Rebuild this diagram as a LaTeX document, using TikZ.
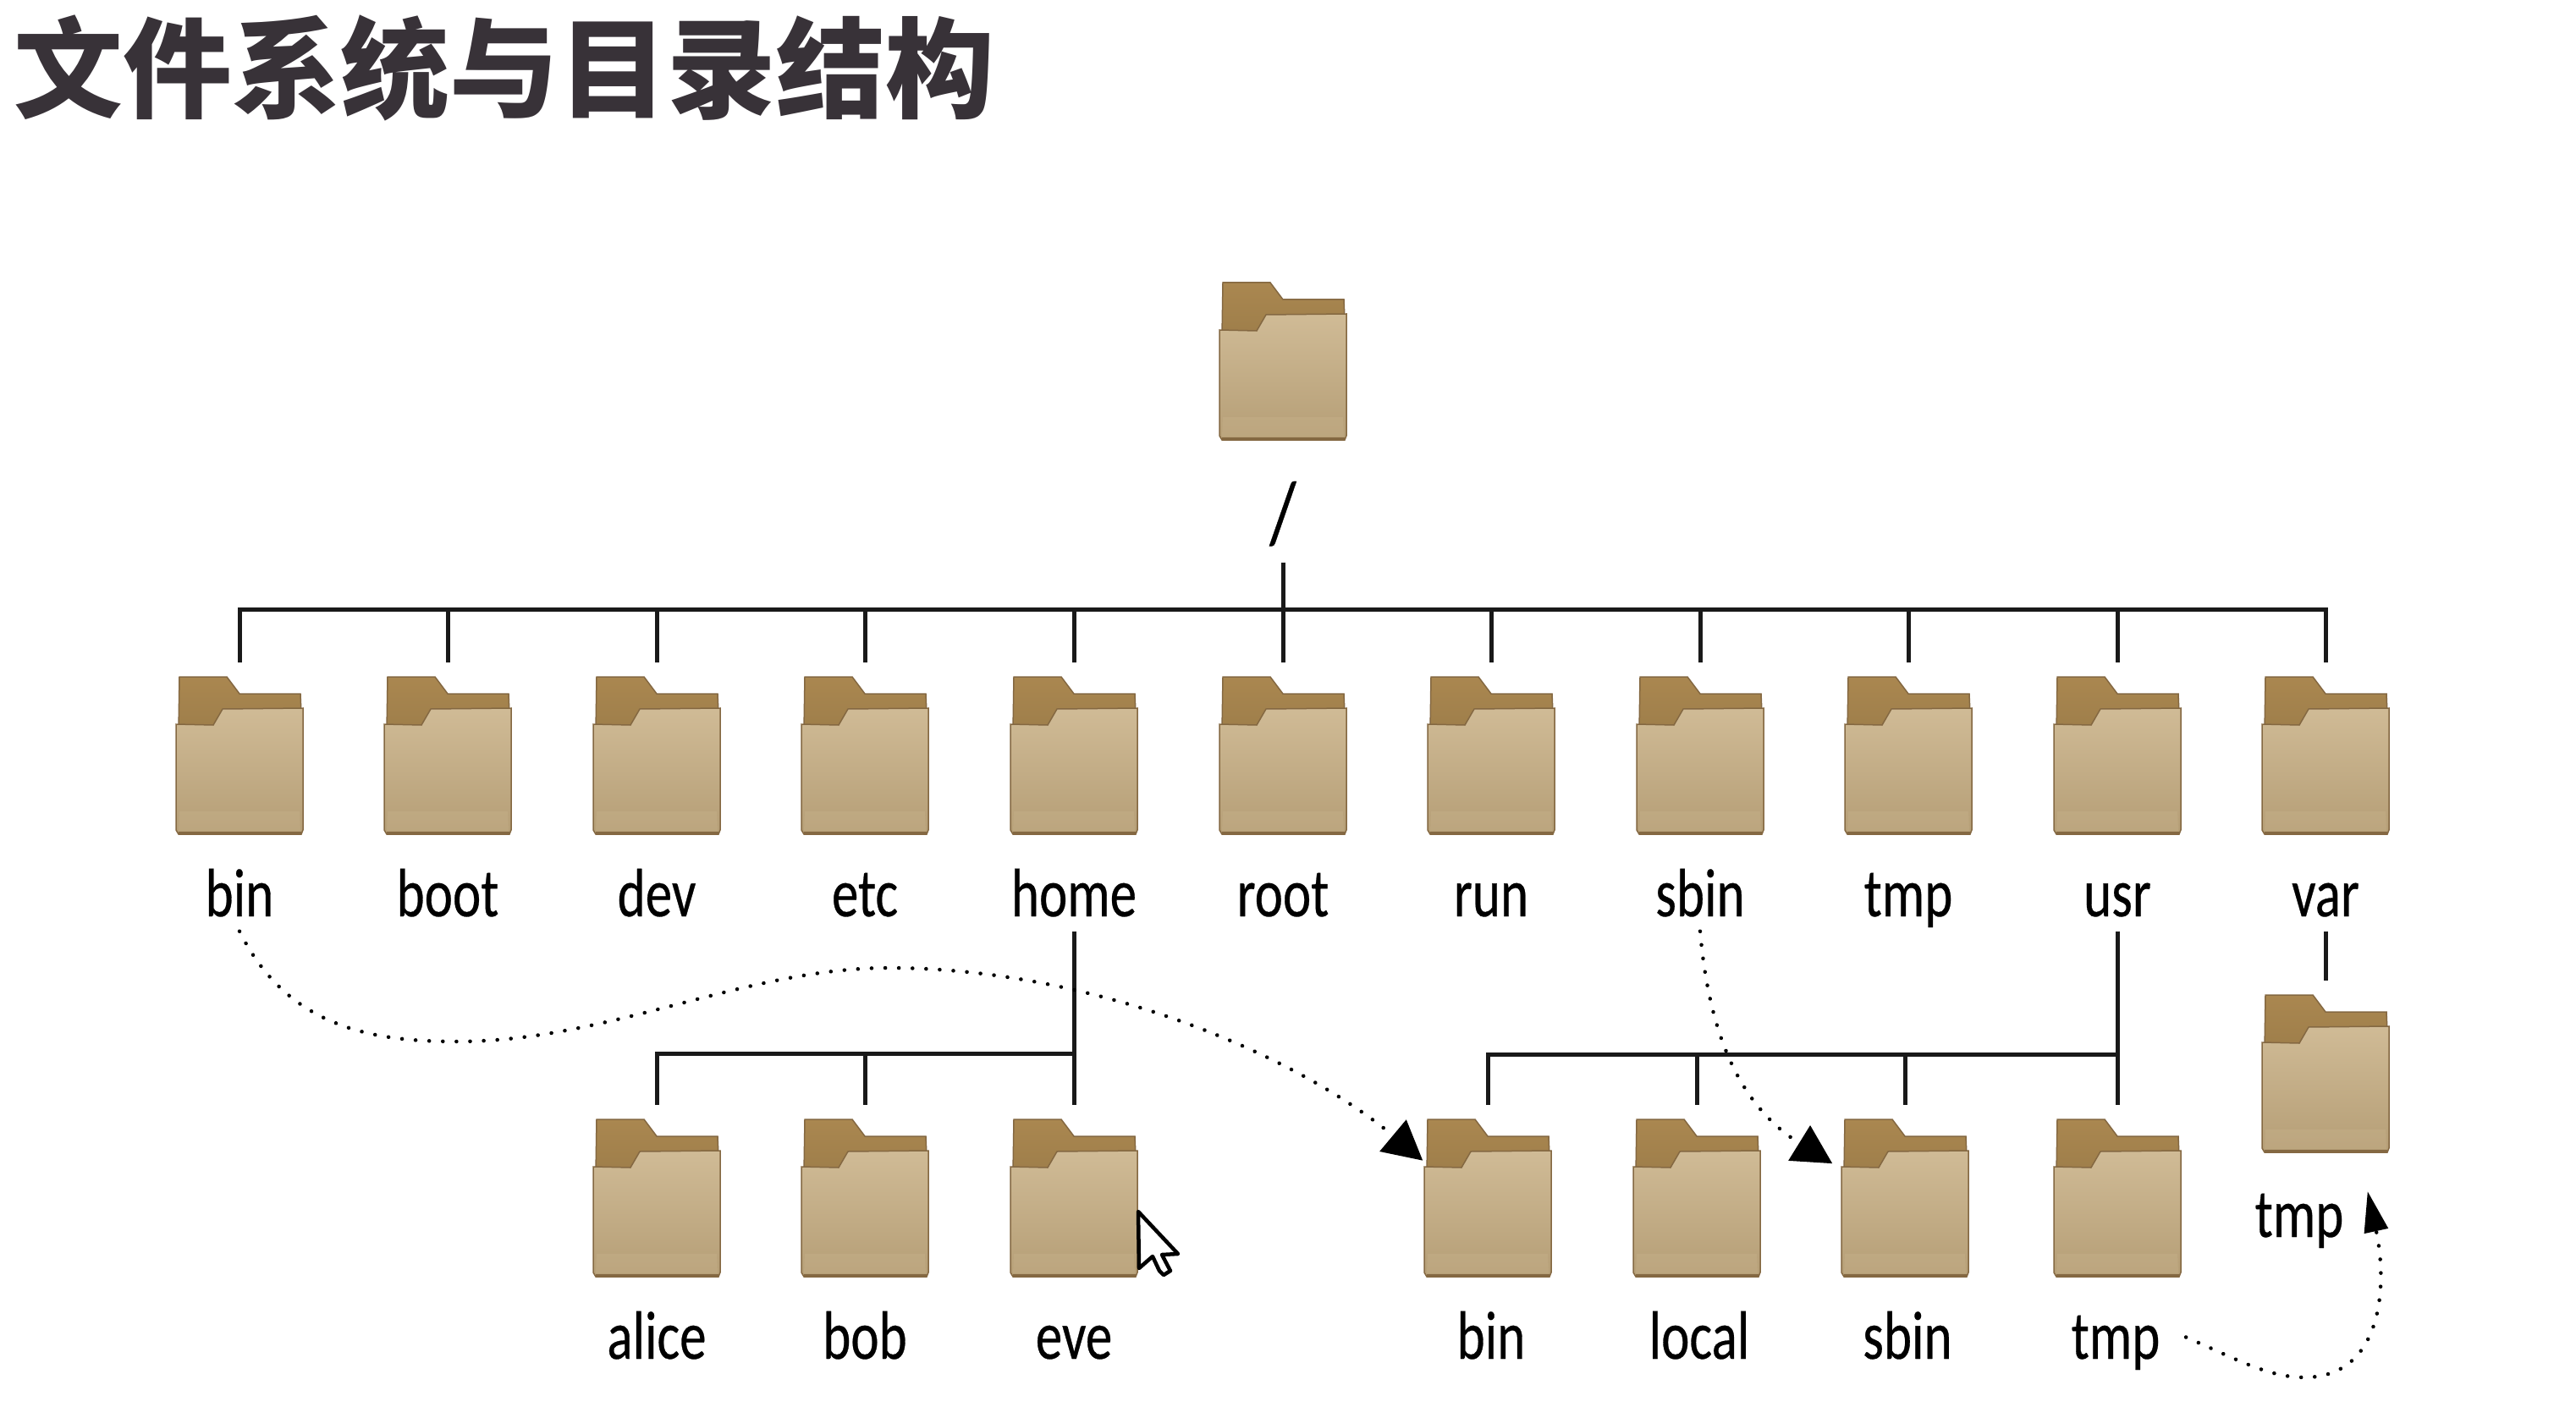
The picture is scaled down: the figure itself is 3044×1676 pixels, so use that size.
\documentclass[tikz,border=0pt]{standalone}
\usepackage{fontspec}
\setmainfont{Carlito}[FakeStretch=0.78, FakeBold=0.35]
\newfontfamily\cjk{Noto Sans CJK SC}
\usetikzlibrary{arrows.meta}

\definecolor{tabtop}{RGB}{170,135,80}
\definecolor{tabbottom}{RGB}{158,126,74}
\definecolor{fronttop}{RGB}{208,187,150}
\definecolor{frontmid}{RGB}{192,169,130}
\definecolor{frontbottom}{RGB}{181,158,118}
\definecolor{folderedge}{RGB}{132,104,66}
\definecolor{titleink}{RGB}{56,50,56}

\newcommand{\folderart}{%
  \begin{scope}[shift={(path picture bounding box.center)}]
    \draw[draw=folderedge, line width=0.015cm, top color=tabtop, bottom color=tabbottom]
      (-71, -93) -- (-15, -93) -- (0, -73) -- (72, -73) -- (73, -50) -- (-72, -30) -- cycle;
    \draw[draw=folderedge, line width=0.015cm, top color=fronttop, middle color=frontmid, bottom color=frontbottom]
      (-75, -37) -- (-31, -36) -- (-20, -55) -- (75, -56) -- (75, 88) -- (73, 93) -- (-72, 93) -- (-75, 88) -- cycle;
    \fill[fronttop, opacity=0.25] (-71, 66) -- (71, 66) -- (72, 89) -- (-72, 89) -- cycle;
    \draw[folderedge, line width=0.04cm] (-72, 92) -- (73, 92);
  \end{scope}}

\tikzset{
  folder/.style={minimum width=1.52cm, minimum height=1.88cm, inner sep=0pt, outer ysep=0.16cm, path picture={\folderart}},
  dirname/.style={anchor=base, inner xsep=0pt, inner ysep=0.17cm, text depth=0pt, font=\fontsize{23}{26}\selectfont},
  branch/.style={line width=0.05cm, draw=black!90},
  symlink/.style={line width=0.045cm, line cap=round, dash pattern=on 0.001cm off 0.16cm, -{Triangle[length=0.46cm, width=0.48cm]}}
}

\begin{document}
\begin{tikzpicture}[x=0.01cm, y=-0.01cm]
  \useasboundingbox (0, 0) rectangle (3044, 1676);

  \node[anchor=base west, inner sep=0pt, text=titleink, font=\cjk\bfseries\fontsize{36.6}{40}\selectfont] (title) at (16, 130) {文件系统与目录结构};

  \node[folder] (top) at (1516, 427) {};
  \node[dirname, inner ysep=0.23cm, font=\fontsize{29.5}{32}\selectfont] (slash) at (1516, 641) {/};

  \node[folder] (bin) at (283, 893) {};
  \node[folder] (boot) at (529, 893) {};
  \node[folder] (dev) at (776, 893) {};
  \node[folder] (etc) at (1022, 893) {};
  \node[folder] (home) at (1269, 893) {};
  \node[folder] (rootdir) at (1516, 893) {};
  \node[folder] (run) at (1762, 893) {};
  \node[folder] (sbin) at (2009, 893) {};
  \node[folder] (tmp) at (2255, 893) {};
  \node[folder] (usr) at (2502, 893) {};
  \node[folder] (var) at (2748, 893) {};

  \node[dirname] (binname) at (283, 1083) {bin};
  \node[dirname] (bootname) at (529, 1083) {boot};
  \node[dirname] (devname) at (776, 1083) {dev};
  \node[dirname] (etcname) at (1022, 1083) {etc};
  \node[dirname] (homename) at (1269, 1083) {home};
  \node[dirname] (rootname) at (1516, 1083) {root};
  \node[dirname] (runname) at (1762, 1083) {run};
  \node[dirname] (sbinname) at (2009, 1083) {sbin};
  \node[dirname] (tmpname) at (2255, 1083) {tmp};
  \node[dirname] (usrname) at (2502, 1083) {usr};
  \node[dirname] (varname) at (2748, 1083) {var};

  \node[folder] (alice) at (776, 1416) {};
  \node[folder] (bob) at (1022, 1416) {};
  \node[folder] (eve) at (1269, 1416) {};
  \node[folder] (usrbin) at (1758, 1416) {};
  \node[folder] (usrlocal) at (2005, 1416) {};
  \node[folder] (usrsbin) at (2251, 1416) {};
  \node[folder] (usrtmp) at (2502, 1416) {};
  \node[folder] (vartmp) at (2748, 1269) {};

  \node[dirname] (alicename) at (776, 1606) {alice};
  \node[dirname] (bobname) at (1022, 1606) {bob};
  \node[dirname] (evename) at (1269, 1606) {eve};
  \node[dirname] (usrbinname) at (1762, 1606) {bin};
  \node[dirname] (usrlocalname) at (2008, 1606) {local};
  \node[dirname] (usrsbinname) at (2254, 1606) {sbin};
  \node[dirname] (usrtmpname) at (2500, 1606) {tmp};
  \node[dirname] (vartmpname) at (2717, 1462) {tmp};

  \coordinate (rootbus) at (1516, 720);
  \coordinate (homebus) at (1269, 1245);
  \coordinate (usrbus) at (2502, 1246);

  \draw[branch] (slash.south) -- (rootdir.north);
  \draw[branch] (bin.north) |- (rootbus);
  \draw[branch] (boot.north) |- (rootbus);
  \draw[branch] (dev.north) |- (rootbus);
  \draw[branch] (etc.north) |- (rootbus);
  \draw[branch] (home.north) |- (rootbus);
  \draw[branch] (run.north) |- (rootbus);
  \draw[branch] (sbin.north) |- (rootbus);
  \draw[branch] (tmp.north) |- (rootbus);
  \draw[branch] (usr.north) |- (rootbus);
  \draw[branch] (var.north) |- (rootbus);

  \draw[branch] (homename.south) -- (eve.north);
  \draw[branch] (alice.north) |- (homebus);
  \draw[branch] (bob.north) |- (homebus);

  \draw[branch] (usrname.south) -- (usrtmp.north);
  \draw[branch] (usrbin.north) |- (usrbus);
  \draw[branch] (usrlocal.north) |- (usrbus);
  \draw[branch] (usrsbin.north) |- (usrbus);

  \draw[branch] (varname.south) -- (vartmp.north);

  \draw[symlink] (binname.south) .. controls (340, 1215) and (440, 1231) .. (540, 1231)
    .. controls (720, 1231) and (880, 1144) .. (1050, 1144)
    .. controls (1290, 1144) and (1530, 1245) .. (usrbin.150);
  \draw[symlink] (sbinname.south) .. controls (2020, 1230) and (2060, 1310) .. ([xshift=-0.09cm]usrsbin.152);
  \draw[symlink, -{Triangle[length=0.48cm, width=0.28cm]}] ([xshift=0.3cm]usrtmpname.east) .. controls (2640, 1605) and (2680, 1628) .. (2723, 1628)
    .. controls (2815, 1628) and (2822, 1520) .. ([shift={(-27, 29)}]vartmp.south east);

  \draw[line width=0.045cm, fill=white, line join=round] (1345, 1432) -- (1392, 1482) -- (1373, 1483) -- (1383, 1502) -- (1375, 1507) -- (1370, 1502) -- (1362, 1485) -- (1346, 1499) -- cycle;
\end{tikzpicture}
\end{document}
